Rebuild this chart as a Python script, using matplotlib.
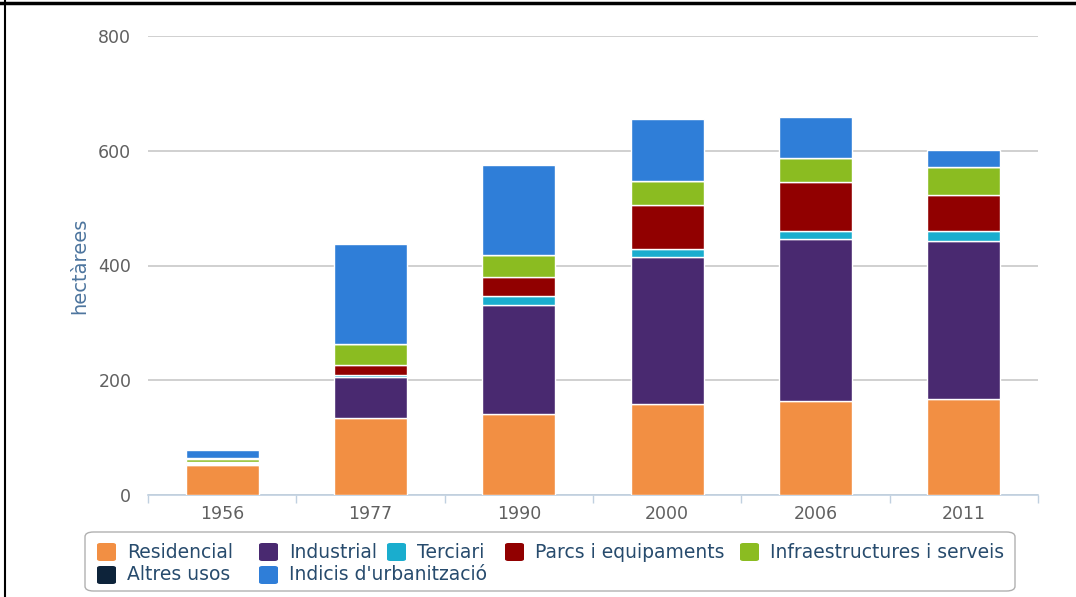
import matplotlib
matplotlib.use('Agg')
import matplotlib.pyplot as plt
from matplotlib import font_manager as fm
from matplotlib.patches import FancyBboxPatch
from matplotlib.lines import Line2D
import numpy as np

# data (hectares)
years = ['1956', '1977', '1990', '2000', '2006', '2011']
residencial = [53, 135, 141, 158, 163, 167]
industrial = [1, 71, 190, 256, 283, 275]
terciari = [1, 3, 15, 14, 15, 19]
parcs = [2, 17, 34, 77, 84, 62]
infraestructures = [6, 37, 38, 43, 43, 48]
altres = [2, 0, 0, 0, 0, 0]
indicis = [14, 174, 158, 107, 70, 30]

series_names = ['Residencial', 'Industrial', 'Terciari', 'Parcs i equipaments',
                'Infraestructures i serveis', 'Altres usos', "Indicis d'urbanització"]
series_vals = [residencial, industrial, terciari, parcs, infraestructures, altres, indicis]
colors = ['#f28f43', '#492970', '#1aadce', '#910000', '#8bbc21', '#0d233a', '#2f7ed8']

# pick a narrow font for the legend if there is one
names = {f.name for f in fm.fontManager.ttflist}
legend_font = 'Liberation Sans Narrow' if 'Liberation Sans Narrow' in names else 'DejaVu Sans'

W, H = 1076, 597
fig = plt.figure(figsize=(W / 100, H / 100), dpi=100)
ax = fig.add_axes([148 / W, (H - 495) / H, (1038 - 148) / W, (495 - 36) / H])

x = np.arange(len(years))
bottom = np.zeros(len(years))
for name, vals, c in zip(series_names, series_vals, colors):
    ax.bar(x, vals, width=0.49, bottom=bottom, color=c, edgecolor='white',
           linewidth=1, label=name, zorder=3)
    bottom += np.array(vals)

ax.set_xlim(-0.5, len(years) - 0.5)
ax.set_ylim(0, 800)
ax.set_yticks([0, 200, 400, 600, 800])
ax.yaxis.grid(True, color='#c8c8c8', linewidth=1.2, zorder=0)
ax.tick_params(axis='y', length=0, pad=12, labelsize=12.5, labelcolor='#606060')

# category labels in the middle, tick marks on the boundaries
ax.set_xticks(x)
ax.set_xticklabels(years)
ax.set_xticks(np.arange(-0.5, len(years)), minor=True)
ax.tick_params(axis='x', which='major', length=0, pad=7, labelsize=12.5, labelcolor='#606060')
ax.tick_params(axis='x', which='minor', length=6, width=1, color='#c0d0e0')

for s in ['top', 'right', 'left']:
    ax.spines[s].set_visible(False)
ax.spines['bottom'].set_color('#c0d0e0')
ax.spines['bottom'].set_linewidth(1.2)

ax.set_ylabel('hectàrees', color='#4d759e', fontsize=14)
ax.yaxis.set_label_coords(-59 / (1038 - 148), 0.5)

# legend box drawn by hand so the items flow like the original
box = FancyBboxPatch((85 / W, (H - 591) / H), (1015 - 85) / W, (591 - 532) / H,
                     boxstyle='round,pad=0,rounding_size=0.008', transform=fig.transFigure,
                     facecolor='white', edgecolor='#b0b0b0', linewidth=1)
fig.patches.append(box)

item_x = [97, 259, 387, 505, 740, 97, 259]
item_y = [552, 552, 552, 552, 552, 575, 575]
for name, c, px, py in zip(series_names, colors, item_x, item_y):
    sw = FancyBboxPatch((px / W, (H - py - 9) / H), 19 / W, 18 / H,
                        boxstyle='round,pad=0,rounding_size=0.003', transform=fig.transFigure,
                        facecolor=c, edgecolor='none')
    fig.patches.append(sw)
    fig.text((px + 30) / W, (H - py) / H, name, ha='left', va='center',
             fontsize=13.5, color='#274b6d', family=legend_font)

# black frame lines at the top and left edge of the screenshot
fig.add_artist(Line2D([0, 1], [1 - 2.5 / H, 1 - 2.5 / H], color='black', linewidth=2.5,
                      transform=fig.transFigure))
fig.add_artist(Line2D([4.5 / W, 4.5 / W], [0, 1], color='black', linewidth=1.5,
                      transform=fig.transFigure))

fig.savefig('out.png', dpi=100, facecolor='white')
